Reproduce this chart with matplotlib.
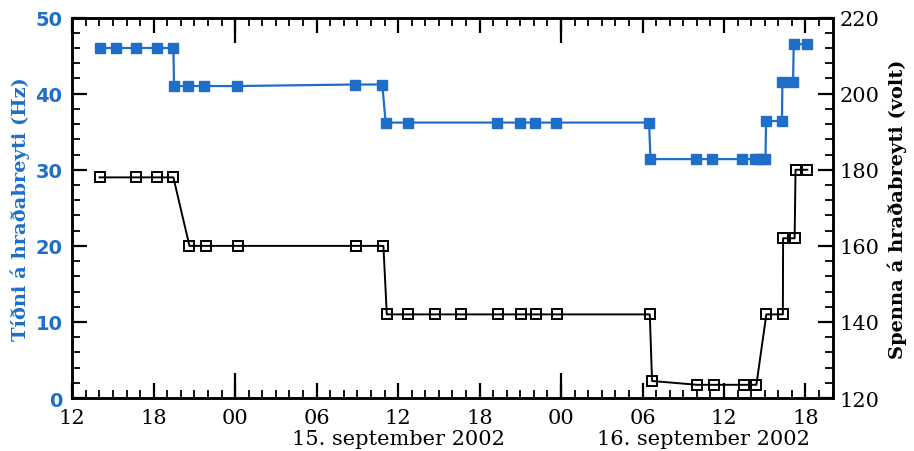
import pandas as pd
import matplotlib
matplotlib.use("Agg")
import matplotlib.pyplot as plt
import matplotlib.dates as mdates
from matplotlib.ticker import MultipleLocator, NullLocator

# frequency on the drive (Hz), blue filled squares
hz_time = ["2002-09-14 14:01", "2002-09-14 15:14", "2002-09-14 16:43", "2002-09-14 18:14",
           "2002-09-14 19:27", "2002-09-14 19:30", "2002-09-14 20:31", "2002-09-14 21:44",
           "2002-09-15 00:07", "2002-09-15 08:49", "2002-09-15 10:50", "2002-09-15 11:05",
           "2002-09-15 12:42", "2002-09-15 19:15", "2002-09-15 20:58", "2002-09-15 22:07",
           "2002-09-15 23:37", "2002-09-16 06:29", "2002-09-16 06:35", "2002-09-16 09:55",
           "2002-09-16 11:09", "2002-09-16 13:21", "2002-09-16 14:16", "2002-09-16 14:38",
           "2002-09-16 15:03", "2002-09-16 15:06", "2002-09-16 16:16", "2002-09-16 16:18",
           "2002-09-16 17:05", "2002-09-16 17:08", "2002-09-16 18:07"]
hz_value = [46, 46, 46, 46,
            46, 41, 41, 41,
            41, 41.2, 41.2, 36.2,
            36.2, 36.2, 36.2, 36.2,
            36.2, 36.2, 31.4, 31.4,
            31.4, 31.4, 31.4, 31.4,
            31.4, 36.4, 36.4, 41.5,
            41.5, 46.5, 46.5]

# voltage on the drive (volt), black open squares
volt_time = ["2002-09-14 14:01", "2002-09-14 16:43", "2002-09-14 18:14", "2002-09-14 19:27",
             "2002-09-14 20:38", "2002-09-14 21:49", "2002-09-15 00:11", "2002-09-15 08:52",
             "2002-09-15 10:55", "2002-09-15 11:10", "2002-09-15 12:45", "2002-09-15 14:43",
             "2002-09-15 16:37", "2002-09-15 19:22", "2002-09-15 21:02", "2002-09-15 22:11",
             "2002-09-15 23:43", "2002-09-16 06:32", "2002-09-16 06:42", "2002-09-16 10:01",
             "2002-09-16 11:16", "2002-09-16 13:27", "2002-09-16 14:23", "2002-09-16 15:07",
             "2002-09-16 16:20", "2002-09-16 16:21", "2002-09-16 17:12", "2002-09-16 17:16",
             "2002-09-16 18:08"]
volt_value = [178, 178, 178, 178,
              160, 160, 160, 160,
              160, 142, 142, 142,
              142, 142, 142, 142,
              142, 142, 124.5, 123.5,
              123.5, 123.5, 123.5, 142,
              142, 162, 162, 180,
              180]

blue = "#1f6fc8"

hz_t = pd.to_datetime(hz_time)
volt_t = pd.to_datetime(volt_time)

fig = plt.figure(figsize=(9.14, 4.52), dpi=100)
ax = fig.add_axes([0.079, 0.117, 0.832, 0.842])
ax2 = ax.twinx()

ax.plot(hz_t, hz_value, color=blue, lw=1.6, marker="s", ms=7, mfc=blue, mec=blue, zorder=3)
ax2.plot(volt_t, volt_value, color="black", lw=1.4, marker="s", ms=7, mfc="none",
         mec="black", mew=1.4, zorder=3)

ax.set_xlim(pd.Timestamp("2002-09-14 12:00"), pd.Timestamp("2002-09-16 20:00"))
ax.set_ylim(0, 50)
ax2.set_ylim(120, 220)

serif = "DejaVu Serif"

# x axis: label every 6 hours, minor tick every hour
ax.xaxis.set_major_locator(mdates.HourLocator(byhour=range(0, 24, 6)))
ax.xaxis.set_major_formatter(mdates.DateFormatter("%H"))
ax.xaxis.set_minor_locator(mdates.HourLocator())
ax.tick_params(axis="x", which="major", direction="in", length=11, width=1.6,
               top=True, labelsize=15, pad=7)
ax.tick_params(axis="x", which="minor", direction="in", length=6, width=1.3, top=True)
for lab in ax.get_xticklabels():
    lab.set_fontfamily(serif)

# longer marks at midnight
for side in ("top", "bottom"):
    sec = ax.secondary_xaxis(side)
    sec.xaxis.set_major_locator(mdates.HourLocator(byhour=[0]))
    sec.xaxis.set_minor_locator(NullLocator())
    sec.tick_params(direction="in", length=18, width=1.6, labelbottom=False, labeltop=False)
    sec.spines[side].set_visible(False)

ax.yaxis.set_major_locator(MultipleLocator(10))
ax.yaxis.set_minor_locator(MultipleLocator(2))
ax.tick_params(axis="y", which="major", direction="in", length=11, width=1.6,
               labelsize=14, labelcolor=blue, pad=7)
ax.tick_params(axis="y", which="minor", direction="in", length=6, width=1.3)
for lab in ax.get_yticklabels():
    lab.set_fontweight("bold")
    lab.set_verticalalignment("center_baseline")

ax2.yaxis.set_major_locator(MultipleLocator(20))
ax2.yaxis.set_minor_locator(MultipleLocator(4))
ax2.tick_params(axis="y", which="major", direction="in", length=11, width=1.6,
                labelsize=15, pad=5)
ax2.tick_params(axis="y", which="minor", direction="in", length=6, width=1.3)
for lab in ax2.get_yticklabels():
    lab.set_fontfamily(serif)

for a in (ax, ax2):
    for s in a.spines.values():
        s.set_linewidth(1.8)

ax.set_ylabel("Tíðni á hraðabreyti (Hz)", color=blue, fontsize=14, fontweight="bold",
              fontfamily=serif, labelpad=4)
ax2.set_ylabel("Spenna á hraðabreyti (volt)", fontsize=14, fontweight="bold",
               fontfamily=serif, labelpad=6)

# date captions under the hour labels
trans = ax.get_xaxis_transform()
ax.text(pd.Timestamp("2002-09-15 12:00"), -0.08, "15. september 2002", transform=trans,
        ha="center", va="top", fontsize=15, fontfamily=serif)
ax.text(pd.Timestamp("2002-09-16 10:30"), -0.08, "16. september 2002", transform=trans,
        ha="center", va="top", fontsize=15, fontfamily=serif)

fig.savefig("out.png", dpi=100)
